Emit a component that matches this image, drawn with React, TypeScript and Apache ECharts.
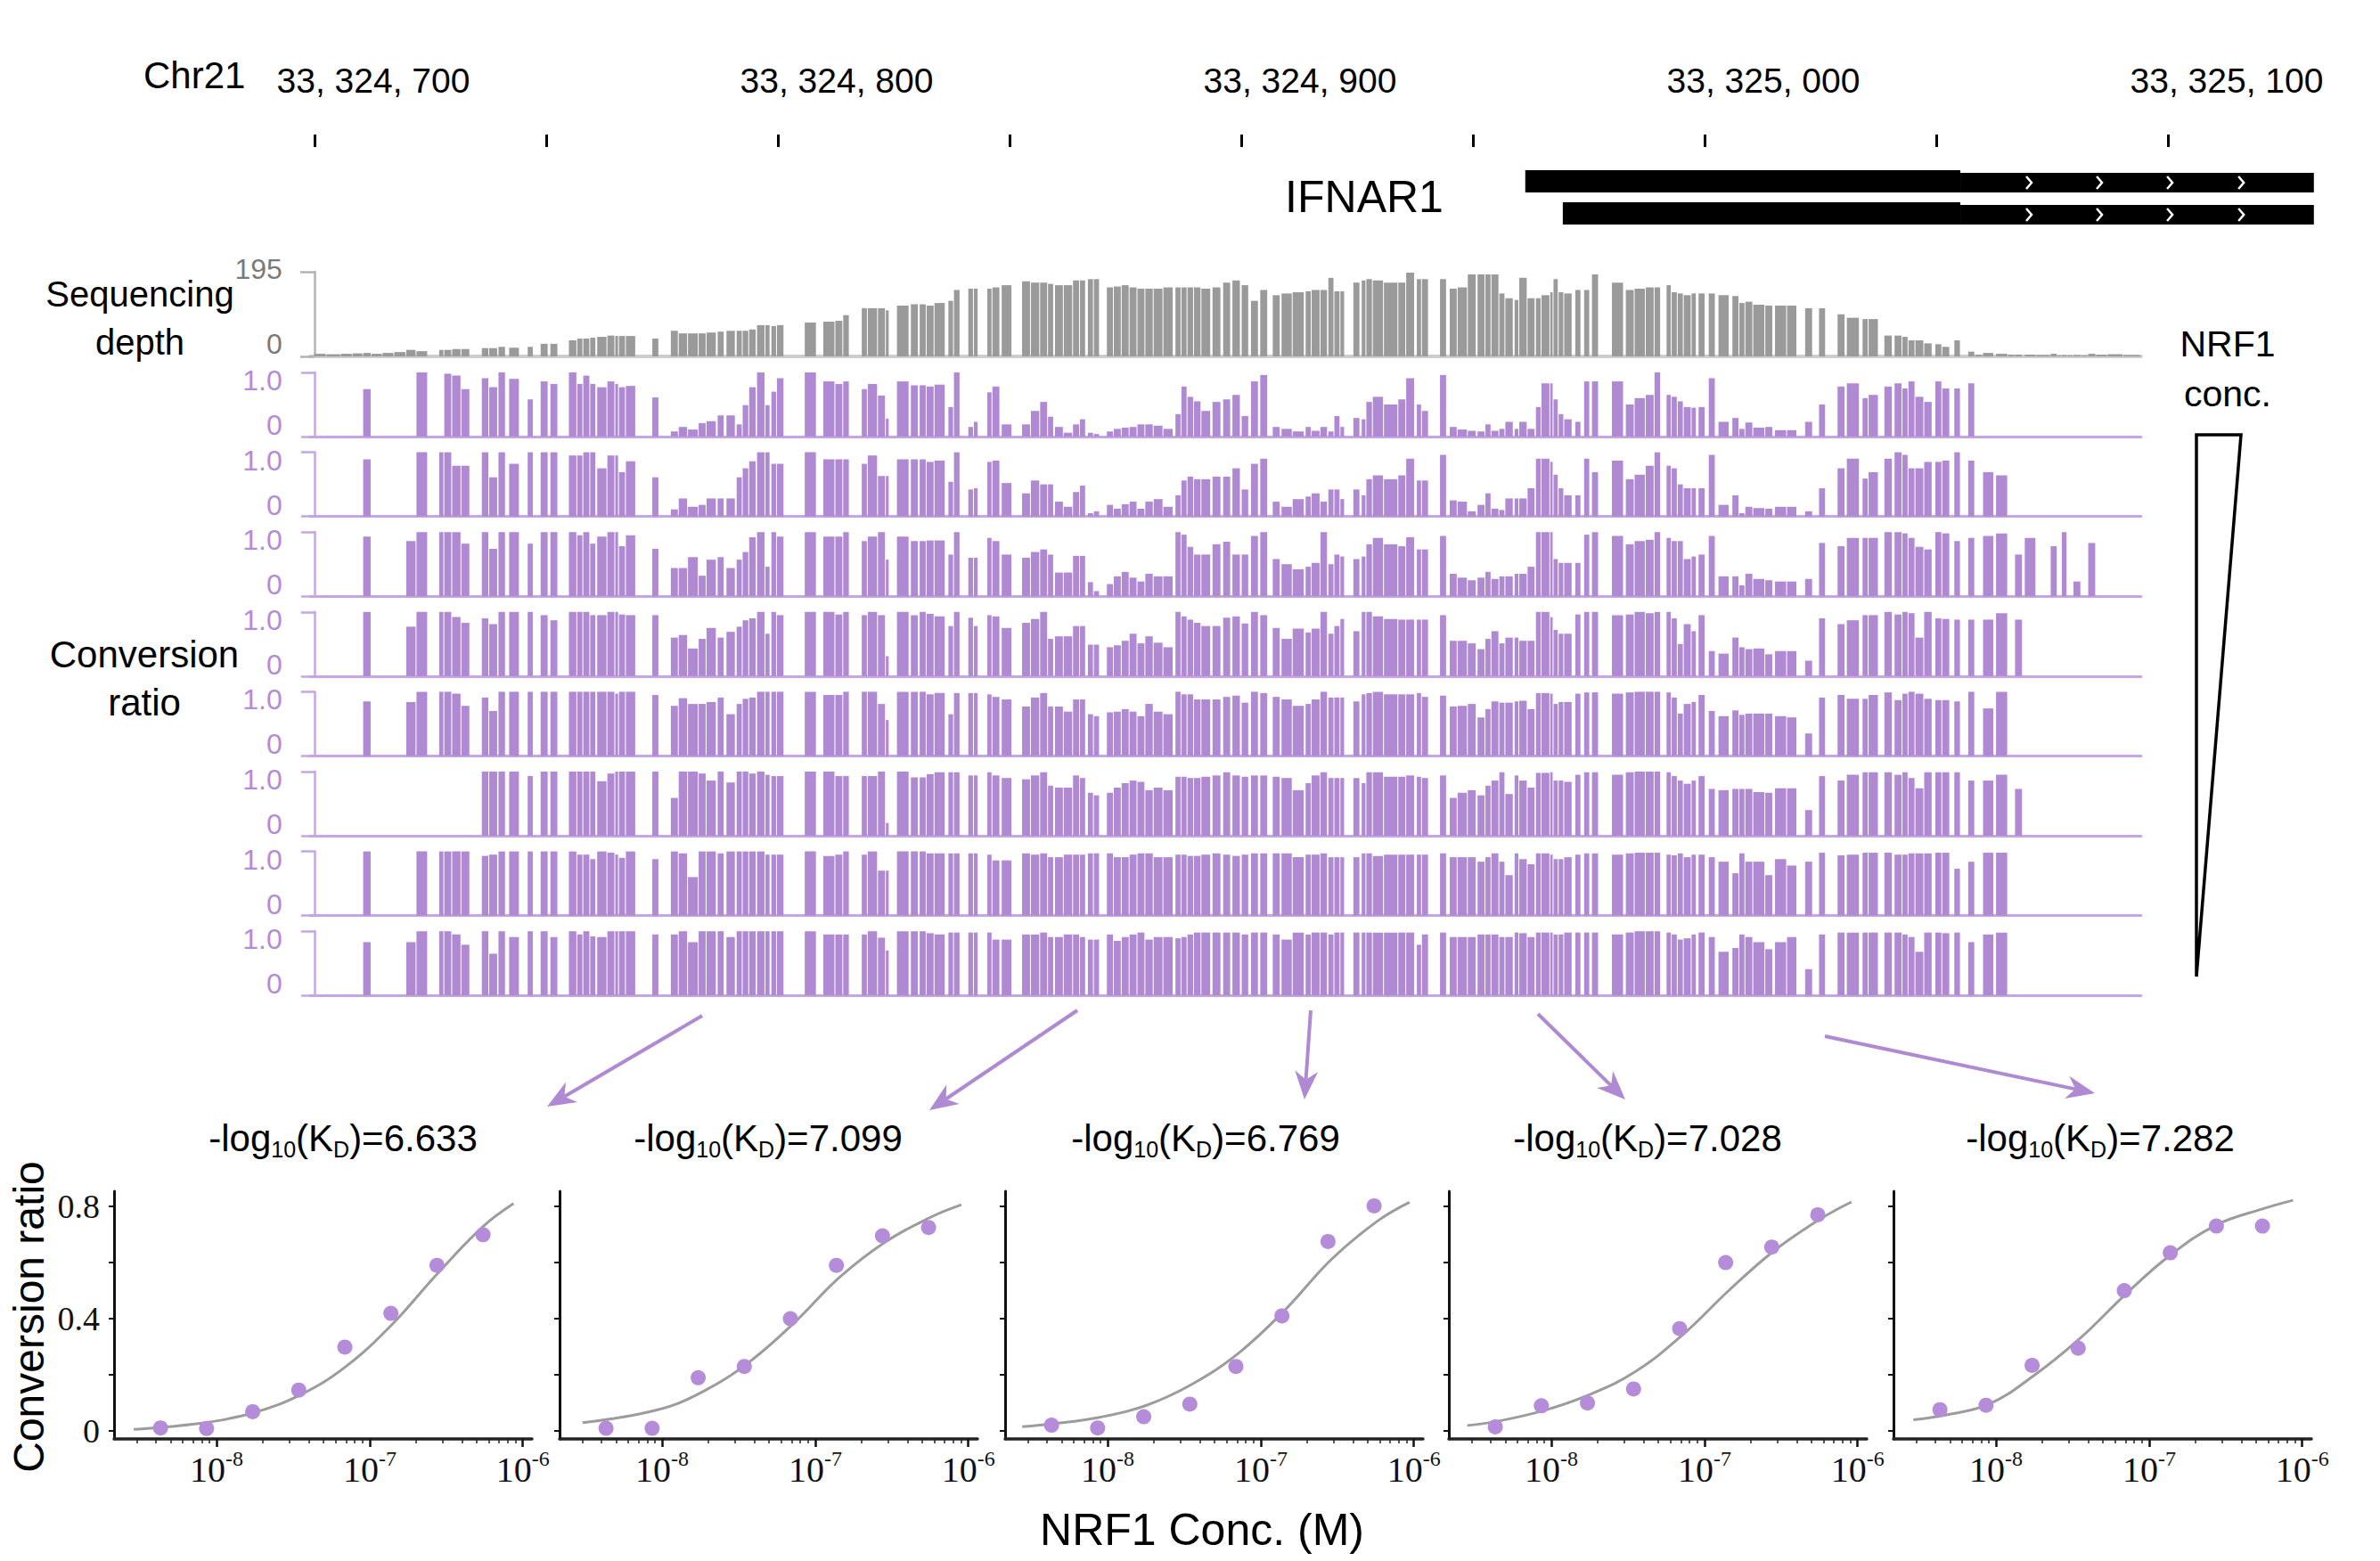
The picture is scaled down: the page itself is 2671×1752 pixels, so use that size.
import React, { useEffect, useRef } from "react";
import * as echarts from "echarts";

// ---------------- data ----------------
const CHROM = "Chr21";
const GENE_NAME = "IFNAR1";
const GENOME_TICKS = [0, 50, 100, 150, 200, 250, 300, 350, 400];
const GENOME_LABEL_POS = [0, 100, 200, 300, 400];
const GENOME_LABELS = ["33, 324, 700", "33, 324, 800", "33, 324, 900", "33, 325, 000", "33, 325, 100"];
// [start bp, end bp, transcript row, kind] kind 0 = coding block, 1 = UTR block
const GENE_PARTS = [
  [261.3, 355.2, 0, 0], [355.2, 431.5, 0, 1],
  [269.4, 355.2, 1, 0], [355.2, 431.5, 1, 1],
];
const GENE_CHEVRONS = [370, 385.2, 400.4, 415.8];

const SITES = [
  [-0.1,2.6],[2.6,5.7],[5.7,8.2],[8.2,10.5],[10.5,12.3],[12.3,14.7],[14.7,17.2],[17.2,19.8],[19.8,22.0],[22.0,24.5],
  [26.9,28.0],[28.0,29.7],[29.7,31.7],[31.7,33.6],[36.1,37.7],[37.7,39.6],[39.7,41.3],[42.0,44.3],[46.0,47.3],[48.8,50.5],
  [50.9,52.6],[54.9,56.7],[56.7,58.0],[58.0,59.5],[59.5,60.8],[61.0,63.2],[63.2,64.9],[64.9,65.7],[65.7,67.2],[67.2,69.4],
  [72.9,74.4],[76.9,78.6],[78.6,80.6],[80.6,82.9],[82.9,84.6],[84.6,86.8],[87.0,88.5],[88.9,90.9],[91.1,92.4],[92.4,93.8],
  [93.8,95.4],[95.5,97.3],[97.3,98.4],[98.6,99.8],[99.8,101.4],[105.8,108.4],[109.8,112.4],[112.4,114.1],[114.1,115.5],[118.1,119.4],
  [119.4,121.6],[121.6,123.3],[123.3,124.1],[125.7,128.4],[128.7,130.4],[130.6,132.1],
  [132.1,133.8],[133.8,136.2],[136.8,138.0],[138.0,139.4],[141.1,142.3],[142.3,143.3],[145.2,146.3],[146.3,148.0],[148.3,150.6],[152.7,154.6],
  [154.6,156.6],[156.6,158.3],[158.3,159.6],[159.8,161.7],[161.7,163.7],[163.7,165.2],[165.2,166.5],[166.9,168.2],[168.2,169.5],[171.0,172.5],
  [172.5,174.2],[174.2,175.9],[175.9,177.6],[177.6,179.3],[179.3,181.1],[181.1,183.2],[183.2,185.4],[185.8,187.1],[187.1,188.4],[188.4,189.8],
  [189.8,191.4],[191.4,193.5],[193.8,195.7],[196.1,197.8],[198.1,199.9],[200.1,201.7],[202.1,203.8],[204.1,205.8],[206.8,208.5],[208.7,211.1],
  [211.1,213.7],[213.9,215.2],[215.2,217.1],[217.1,218.7],[218.8,220.1],[220.1,221.4],[221.4,222.4],[224.2,225.7],[226.0,227.0],[227.0,228.4],
  [228.4,230.8],[230.8,233.9],[233.9,235.6],[235.6,237.5],[237.9,239.0],[239.0,240.5],[242.9,244.4],[245.0,246.7],[246.7,248.9],[248.9,250.8],
  [251.0,252.7],[252.7,254.0],[254.0,255.7],[255.7,257.0],[257.0,258.8],[259.0,260.0],[260.0,261.8],[261.8,263.5],[263.6,264.8],[264.8,266.7],
  [266.7,267.4],[267.4,268.5],[268.5,269.7],[269.7,271.5],[272.1,273.4],[274.0,275.3],[275.7,277.2],[280.0,282.6],[283.0,284.9],[284.9,287.3],
  [287.3,289.2],[289.2,290.6],[291.8,292.9],[292.9,294.2],[294.2,295.5],[295.5,297.2],[297.2,298.3],[298.7,300.2],[300.9,302.4],[303.0,305.4],
  [306.0,307.5],[307.5,308.8],[308.8,310.5],[310.5,313.1],[313.1,314.8],[315.2,317.8],[317.8,320.0],[321.7,323.4],[324.7,326.2],[328.7,330.4],
  [330.7,333.5],[334.1,335.4],[335.4,337.6],[338.8,340.6],[341.0,342.7],[342.7,344.0],[344.0,345.5],[345.5,347.4],[347.4,349.2],[349.8,351.3],
  [351.3,353.0],[353.9,355.3],[356.9,358.4],[358.4,360.1],[360.1,362.5],[362.9,365.5],[365.5,367.0],[367.0,368.7],[369.1,371.6],[371.6,374.7],
  [374.7,376.2],[376.2,377.1],[377.1,378.3],[378.3,379.6],[379.6,381.3],[381.3,382.8],[382.8,384.5],[384.5,387.0],[387.0,390.4],[390.4,394.2],
];

const DEPTH_MAX = 195;
const DEPTH = [
  6,5,6,7,8,6,8,10,15,12,
  15,15,17,17,19,19,22,20,22,29,
  29,37,41,41,43,45,48,47,47,47,
  41,59,53,53,53,55,57,59,59,59,
  62,72,72,70,72,78,80,82,95,111,
  111,111,106,117,120,120,
  117,123,128,153,156,156,156,159,164,173,
  170,170,167,164,164,175,175,178,178,159,
  161,164,159,156,156,156,159,159,159,159,
  159,156,159,170,175,164,128,153,141,145,
  148,150,153,153,181,150,150,170,175,178,
  175,170,170,193,178,178,178,156,159,189,
  189,189,189,145,134,130,181,134,134,141,
  148,178,148,145,153,153,189,170,153,156,
  159,159,164,148,145,141,145,145,145,141,
  139,123,126,119,117,117,117,111,111,97,
  89,86,86,48,48,45,37,37,30,28,
  22,37,11,4,8,6,4,4,4,3,
  6,2,3,2,3,2,6,4,5,3,
];

const CONV_1 = [
  0,0,0,0,.74,0,0,0,0,1,
  0,.98,.95,.74,.91,.77,1,.9,.58,.86,
  .82,1,.82,.95,.82,.77,.86,.82,.77,.79,
  .61,.08,.15,.11,.21,.24,.33,.33,.19,.49,
  .77,1,.49,.7,.91,1,.86,.82,.86,.74,
  .82,.64,.28,.86,.8,.8,
  .78,.81,.46,1,.15,.23,.69,.78,.19,.19,
  .4,.54,.31,.15,.06,.19,.27,.06,.04,.08,
  .12,.14,.15,.19,.19,.17,.12,.35,.78,.62,
  .55,.4,.54,.58,.65,.32,.86,.96,.15,.12,
  .08,.15,.09,.15,.08,.32,.15,.29,.27,.54,
  .62,.5,.58,.91,.5,.4,.96,.15,.11,.09,
  .08,.19,.09,.12,.23,.12,.23,.12,.46,.83,
  .83,.58,.35,.27,.23,.86,.86,.86,.5,.6,
  .65,1,.65,.62,.55,.46,.45,.46,.91,.23,
  .29,.12,.22,.14,.15,.1,.1,.23,.5,.78,
  .83,.6,.65,.78,.83,.75,.86,.62,.54,.86,
  .75,.75,.83,0,0,0,0,0,0,0,
  0,0,0,0,0,0,0,0,0,0,
];
const CONV_2 = [
  0,0,0,0,.89,0,0,0,0,1,
  1,1,.79,.79,1,.61,1,.82,1,1,
  1,.95,.95,1,1,.75,.95,.95,.69,.86,
  .61,.11,.28,.15,.18,.28,.28,.28,.61,.75,
  .86,1,1,.82,.82,1,.89,.89,.89,.82,
  .95,.63,.63,.89,.89,.89,
  .85,.87,.54,1,.42,.44,.85,.87,.52,.36,
  .56,.5,.5,.23,.15,.38,.48,.05,.08,.18,
  .12,.19,.23,.12,.23,.27,.15,.33,.56,.62,
  .58,.58,.62,.62,.75,.42,.82,.9,.23,.15,
  .27,.31,.36,.23,.42,.42,.27,.42,.33,.58,
  .64,.58,.64,.9,.56,.56,.96,.25,.23,.08,
  .18,.36,.12,.1,.28,.28,.28,.44,.9,.9,
  .85,.65,.44,.33,.33,.9,.69,.87,.58,.65,
  .79,1,.79,.75,.5,.44,.44,.44,.96,.18,
  .33,.05,.15,.13,.12,.15,.15,.08,.44,.75,
  .9,.59,.69,.9,1,.96,.75,.75,.85,.85,
  .87,1,.87,0,.69,.64,0,0,0,0,
  0,0,0,0,0,0,0,0,0,0,
];
const CONV_3 = [
  0,0,0,0,.93,0,0,0,.86,1,
  1,1,1,.82,1,.74,1,1,.82,1,
  1,1,.95,1,.82,.93,1,1,.78,.95,
  .74,.44,.44,.61,.32,.57,.61,.44,.57,.69,
  .92,1,.46,1,.93,1,.93,.93,1,.86,
  .93,1,.57,.93,.86,.86,
  .87,.87,.65,1,.6,.6,.91,.86,.65,.6,
  .69,.73,.65,.37,.37,.63,.63,.22,.08,.19,
  .31,.38,.29,.23,.35,.31,.31,1,.96,.77,
  .65,.65,.81,.85,.65,.65,.94,1,.58,.5,
  .42,.46,.52,1,.5,.65,.62,.58,.62,.81,
  .91,.81,.78,.92,.73,.73,.94,.35,.29,.25,
  .29,.38,.27,.31,.31,.35,.35,.46,1,1,
  1,.58,.52,.52,.52,.96,1,.94,.81,.86,
  .88,1,.91,.86,.86,.58,.62,.65,.94,.31,
  .31,.17,.35,.27,.25,.23,.23,.27,.83,.78,
  .91,.91,.91,1,1,.98,.91,.77,.73,1,
  .98,.86,.91,0,.94,.98,0,.65,.91,0,
  .78,0,1,0,.23,0,.83,0,0,0,
];
const CONV_4 = [
  0,0,0,0,1,0,0,0,.77,1,
  1,1,.92,.83,.9,.81,1,1,1,.95,
  .87,1,1,1,.95,.95,1,1,.96,.95,
  .95,.6,.64,.43,.58,.75,.6,.69,.77,.87,
  .9,1,.66,1,.95,1,1,.96,1,.95,
  1,.95,.31,1,.95,1,
  .97,.93,.78,1,.91,.78,.95,.93,.75,.83,
  .89,1,.58,.62,.62,.78,.78,.49,.49,.45,
  .48,.55,.66,.51,.62,.52,.45,1,.93,.88,
  .83,.78,.78,.91,.93,.82,1,.95,.75,.58,
  .74,.68,.74,1,.66,.78,.89,.7,1,1,
  .93,.89,.88,.88,.88,.88,.95,.55,.55,.51,
  .42,.58,.7,.51,.6,.6,.55,.55,1,1,
  .92,.72,.66,.66,.96,1,1,.95,.96,1,
  .98,1,1,.9,.5,.81,.7,.95,.39,.35,
  .6,.45,.42,.43,.34,.39,.39,.24,.9,.81,
  .87,.95,.95,1,.96,1,.98,.6,1,.9,
  .89,.88,.88,0,.88,.98,0,.88,0,0,
  0,0,0,0,0,0,0,0,0,0,
];
const CONV_5 = [
  0,0,0,0,.85,0,0,0,.84,1,
  1,1,.97,.78,.91,.7,1,1,1,1,
  1,1,1,1,1,1,1,.97,1,1,
  .95,.78,.9,.81,.81,.84,.91,.65,.81,.89,
  .91,1,1,1,1,1,.95,.95,1,1,
  1,.81,.56,1,1,1,
  .96,.98,.65,.98,.98,.98,.96,.92,.88,.77,
  .91,.98,.77,.77,.69,.88,.88,.65,.62,.68,
  .69,.73,.69,.62,.81,.69,.65,1,.96,.96,
  .88,.88,.88,.92,.94,.83,1,.98,.92,.88,
  .78,.81,.88,1,.91,.91,.91,.85,.96,.98,
  1,.96,.96,.96,.98,.92,.94,.77,.78,.81,
  .6,.73,.85,.83,.83,.85,.86,.73,.98,.98,
  .97,.81,.84,.84,.97,.99,.99,.97,.99,1,
  1,1,.99,.91,.66,.81,.84,.95,.7,.62,
  .71,.64,.66,.66,.66,.62,.6,.35,.91,.95,
  .89,.89,.95,.99,.87,.97,1,.97,.89,.87,
  .87,.85,1,0,.74,1,0,0,0,0,
  0,0,0,0,0,0,0,0,0,0,
];
const CONV_6 = [
  0,0,0,0,0,0,0,0,0,0,
  0,0,0,0,1,1,1,1,.93,1,
  1,1,1,1,1,.85,.97,1,1,1,
  1,.59,1,1,.97,.86,1,.83,1,1,
  .97,1,.95,.93,.93,1,1,.93,.93,.93,
  .93,1,.2,1,.91,.91,
  .96,.99,.99,.99,.94,.94,.99,.94,.9,.88,
  .94,.99,.78,.75,.75,.94,.9,.67,.63,.67,
  .75,.82,.86,.84,.71,.75,.71,.92,.92,.9,
  .9,.92,.94,.99,.94,.92,.94,.94,.92,.9,
  .71,.82,.94,.99,.9,.9,.9,.9,.82,.99,
  .99,.92,.92,.94,.92,.9,.94,.59,.67,.71,
  .63,.78,.86,.99,.65,.94,.86,.75,.98,.98,
  .99,.86,.86,.84,.95,.99,.99,.95,.99,1,
  1,1,.99,.93,.86,.81,.86,.93,.73,.71,
  .73,.73,.73,.68,.67,.74,.74,.4,.93,.86,
  .95,.99,.99,.99,.95,.99,.9,.74,.99,.99,
  .99,.99,.86,0,.86,.95,0,.73,0,0,
  0,0,0,0,0,0,0,0,0,0,
];
const CONV_7 = [
  0,0,0,0,1,0,0,0,0,1,
  1,1,1,1,.93,.95,1,1,1,1,
  1,1,.95,.95,.88,1,.98,.95,.9,1,
  .88,1,.97,.6,1,1,.97,1,1,1,
  1,1,.95,.95,.95,1,.93,.95,1,.95,
  1,.7,.7,1,1,1,
  .97,.97,.97,.97,.97,.97,.95,.86,.86,.97,
  .95,.97,.91,.91,.95,.95,.95,.97,.97,.97,
  .91,.91,.95,.97,.97,.91,.91,.95,.95,.93,
  .93,.95,.97,.95,.93,.95,.97,.97,.97,.97,
  .91,.95,.95,.97,.91,.91,.91,.91,.97,.97,
  .93,.95,.95,.95,.95,.95,.97,.91,.91,.91,
  .84,.91,.97,.84,.63,.97,.88,.8,.97,.97,
  .95,.88,.88,.91,.95,.97,.97,.95,.97,.98,
  .98,.98,.95,.94,.97,.91,.95,.95,.91,.84,
  .66,.97,.84,.84,.63,.88,.78,.84,.98,.94,
  .95,.98,.98,.98,.95,.95,.97,.97,.97,.98,
  .98,.73,.84,0,.98,.98,0,0,0,0,
  0,0,0,0,0,0,0,0,0,0,
];
const CONV_8 = [
  0,0,0,0,.83,0,0,0,.83,1,
  1,1,.95,.79,1,.65,1,.91,1,1,
  .91,1,.95,1,.92,.91,1,1,1,1,
  .95,.95,1,.83,1,1,1,.91,1,1,
  1,1,1,1,1,1,.95,.95,.95,.95,
  1,.9,.7,1,1,1,
  .97,.95,.98,.98,.98,.98,.98,.87,.87,.95,
  .95,.98,.91,.91,.95,.95,.91,.87,.87,.95,
  .85,.91,.95,.98,.87,.91,.91,.89,.91,.95,
  .98,.98,.98,.98,.98,.95,.98,.98,.95,.87,
  .98,.95,.98,.98,.95,.98,.98,.98,.98,.98,
  .98,.98,.98,.98,.79,.95,.98,.91,.91,.91,
  .95,.95,.95,.91,.91,.98,.97,.91,.98,.98,
  .98,.95,.95,.98,.98,.98,.98,.95,.98,1,
  1,1,.98,.95,.87,.89,.95,.98,.91,.68,
  .74,.95,.91,.83,.72,.83,.91,.41,.95,.98,
  .98,.98,.98,.98,.98,.95,.91,.68,.98,.98,
  .97,.98,.83,0,.95,.98,0,0,0,0,
  0,0,0,0,0,0,0,0,0,0,
];

// NRF1 titration (nM) and per-site fits
const CONC_NM = [4.3, 8.6, 17.2, 34.4, 68.8, 137.5, 275, 550];
const FIT_PKD = [6.633, 7.099, 6.769, 7.028, 7.282];
const POINTS_1 = [0.011, 0.009, 0.069, 0.146, 0.299, 0.419, 0.59, 0.699];
const POINTS_2 = [0.01, 0.01, 0.19, 0.23, 0.40, 0.59, 0.695, 0.725];
const POINTS_3 = [0.021, 0.011, 0.051, 0.096, 0.23, 0.41, 0.675, 0.802];
const POINTS_4 = [0.015, 0.09, 0.10, 0.15, 0.365, 0.60, 0.655, 0.77];
const POINTS_5 = [0.076, 0.092, 0.234, 0.295, 0.50, 0.635, 0.73, 0.73];
const CURVE_X_1 = [-8.541, -8.347, -8.047, -7.746, -7.449, -7.153, -6.855, -6.56, -6.26, -6.06];
const CURVE_Y_1 = [0.006, 0.014, 0.032, 0.067, 0.13, 0.231, 0.379, 0.559, 0.728, 0.81];
const CURVE_X_2 = [-8.52, -8.035, -7.736, -7.438, -7.14, -6.84, -6.54, -6.244, -6.045];
const CURVE_Y_2 = [0.03, 0.075, 0.14, 0.243, 0.384, 0.548, 0.674, 0.762, 0.806];
const CURVE_X_3 = [-8.558, -8.355, -8.053, -7.75, -7.448, -7.144, -6.84, -6.537, -6.235, -6.028];
const CURVE_Y_3 = [0.016, 0.026, 0.049, 0.091, 0.167, 0.278, 0.432, 0.612, 0.749, 0.815];
const CURVE_X_4 = [-8.55, -8.35, -8.05, -7.75, -7.45, -7.14, -6.84, -6.55, -6.25, -6.04];
const CURVE_Y_4 = [0.02, 0.035, 0.073, 0.13, 0.212, 0.344, 0.501, 0.64, 0.753, 0.816];
const CURVE_X_5 = [-8.54, -8.35, -8.05, -7.75, -7.45, -7.15, -6.86, -6.56, -6.26, -6.06];
const CURVE_Y_5 = [0.04, 0.055, 0.095, 0.199, 0.331, 0.489, 0.627, 0.734, 0.791, 0.822];
const X_TICK_EXP = [-8, -7, -6];
const Y_TICKS = [0, 0.4, 0.8];

// ---------------- layout / style ----------------
const W = 2671, H = 1752;
const SANS = '"Liberation Sans", Arial, Helvetica, sans-serif';
const SERIF = '"Liberation Serif", "Times New Roman", serif';
const PURPLE = "#b089d3";
const PURPLE_AXIS = "#c5a5e3";
const PURPLE_TEXT = "#b38cd8";
const DOT = "#b58cd9";
const PX_PER_BP = 5.2;
const X_BP0 = 353;
const BP_MIN = -1, TRACK_BP_MAX = 394.2, TOP_BP_MAX = 432;
const GENE_ROW_Y = [[40, 65], [76, 101]];
const GENE_CHEV_Y = [54, 90];
const PANEL_LEFT = [128, 628, 1128, 1626, 2125];
const PANEL_TITLE_X = [385, 862, 1353, 1849, 2357];
const PANEL_X_MIN = -8.67, PANEL_X_MAX = -5.94;
const PANEL_Y_MIN = -0.028, PANEL_Y_MAX = 0.854;
const ARROWS = [
  [788, 1140, 614, 1242], [1209, 1134, 1043, 1246], [1471, 1134, 1464, 1234],
  [1726, 1138, 1824, 1234], [2048, 1163, 2351, 1227],
];

function text(x: number, y: number, t: string, size: number, o: any = {}) {
  const align = o.align || "center";
  const valign = o.valign || "middle";
  return {
    type: "text", x, y, silent: true, rotation: o.rotation || 0, z: 10,
    style: {
      text: t, fill: o.color || "#000", fontSize: size, fontFamily: o.family || SANS,
      textAlign: align, textVerticalAlign: valign, align, verticalAlign: valign,
      lineHeight: o.lineHeight, rich: o.rich,
    },
  };
}

function arrow([x1, y1, x2, y2]: number[]) {
  const dx = x2 - x1, dy = y2 - y1, len = Math.hypot(dx, dy);
  const ux = dx / len, uy = dy / len, nx = -uy, ny = ux;
  const L = 32, Wd = 26;
  const bx = x2 - ux * L, by = y2 - uy * L;
  const nxp = x2 - ux * L * 0.7, nyp = y2 - uy * L * 0.7;
  return [
    { type: "line", silent: true, shape: { x1, y1, x2: nxp, y2: nyp }, style: { stroke: PURPLE, lineWidth: 4 } },
    {
      type: "polygon", silent: true,
      shape: { points: [[x2, y2], [bx + nx * Wd / 2, by + ny * Wd / 2], [nxp, nyp], [bx - nx * Wd / 2, by - ny * Wd / 2]] },
      style: { fill: PURPLE },
    },
  ];
}

function barRender(color: string) {
  return (_p: any, api: any) => {
    const s = api.value(0), e = api.value(1), v = api.value(2);
    const a = api.coord([s, v]);
    const b = api.coord([e, 0]);
    return {
      type: "rect",
      shape: { x: a[0], y: a[1], width: Math.max(b[0] - a[0] - 1, 1), height: b[1] - a[1] },
      style: { fill: color },
    };
  };
}

function buildOption() {
  const grid: any[] = [], xAxis: any[] = [], yAxis: any[] = [], series: any[] = [], graphic: any[] = [];
  const left = X_BP0 + BP_MIN * PX_PER_BP;
  const gBase = { outerBoundsMode: "none", containLabel: false };

  // genomic ruler + gene model (grid 0)
  grid.push({ ...gBase, left, top: 151, width: (TOP_BP_MAX - BP_MIN) * PX_PER_BP, height: 110 });
  xAxis.push({
    gridIndex: 0, type: "value", position: "top", min: BP_MIN, max: TOP_BP_MAX,
    axisLine: { show: false }, splitLine: { show: false },
    axisTick: { show: true, inside: true, length: 14, customValues: GENOME_TICKS, lineStyle: { color: "#000", width: 3 } },
    axisLabel: {
      show: true, customValues: GENOME_LABEL_POS, fontSize: 39, fontFamily: SANS, color: "#000",
      margin: 61, verticalAlign: "middle", align: "center", padding: [0, 0, 0, 132],
      formatter: (v: number) => GENOME_LABELS[GENOME_LABEL_POS.indexOf(Math.round(v))] || "",
    },
  });
  yAxis.push({ gridIndex: 0, type: "value", min: 0, max: 110, inverse: true, show: false });
  series.push({
    type: "custom", xAxisIndex: 0, yAxisIndex: 0, data: GENE_PARTS, encode: { x: [0, 1], y: 2 },
    renderItem: (_p: any, api: any) => {
      const s = api.value(0), e = api.value(1), row = api.value(2), kind = api.value(3);
      const [t, b] = GENE_ROW_Y[row];
      const a = api.coord([s, kind === 0 ? t : t + 3]);
      const c = api.coord([e, b]);
      return { type: "rect", shape: { x: a[0], y: a[1], width: c[0] - a[0], height: c[1] - a[1] }, style: { fill: "#000" } };
    },
  });
  series.push({
    type: "custom", xAxisIndex: 0, yAxisIndex: 0, z: 5,
    data: GENE_CHEVRONS.flatMap((x) => [[x, 0], [x, 1]]), encode: { x: 0, y: 1 },
    renderItem: (_p: any, api: any) => {
      const c = api.coord([api.value(0), GENE_CHEV_Y[api.value(1)]]);
      return {
        type: "polyline",
        shape: { points: [[c[0] - 3, c[1] - 7], [c[0] + 3, c[1]], [c[0] - 3, c[1] + 7]] },
        style: { stroke: "#fff", lineWidth: 2.5, fill: "none" },
      };
    },
  });

  const trackW = (TRACK_BP_MAX - BP_MIN) * PX_PER_BP;
  // sequencing depth (grid 1)
  grid.push({ ...gBase, left, top: 305, width: trackW, height: 95 });
  xAxis.push({
    gridIndex: 1, type: "value", min: BP_MIN, max: TRACK_BP_MAX,
    axisLine: { show: true, onZero: false, lineStyle: { color: "#cdcdcd", width: 4 } },
    axisTick: { show: false }, axisLabel: { show: false }, splitLine: { show: false },
  });
  yAxis.push({
    gridIndex: 1, type: "value", min: 0, max: DEPTH_MAX, interval: DEPTH_MAX, offset: 9,
    axisLine: { show: true, lineStyle: { color: "#b3b3b3", width: 2.5 } },
    axisTick: { show: true, length: 16, lineStyle: { color: "#b3b3b3", width: 2.5 } },
    axisLabel: {
      show: true, margin: 22,
      formatter: (v: number) => (v > 0 ? `{t|${v}}` : `{z|${v}}`),
      rich: {
        t: { fontSize: 32, fontFamily: SANS, color: "#7a7a7a", padding: [0, 0, 6, 0] },
        z: { fontSize: 32, fontFamily: SANS, color: "#7a7a7a", padding: [0, 0, 28, 0] },
      },
    },
    splitLine: { show: false },
  });
  series.push({
    type: "custom", xAxisIndex: 1, yAxisIndex: 1, encode: { x: [0, 1], y: 2 },
    data: SITES.map((s, i) => [s[0], s[1], DEPTH[i]]).filter((r) => r[2] > 0),
    renderItem: barRender("#9a9a9a"),
  });

  // conversion ratio tracks (grids 2..9)
  const CONV = [CONV_1, CONV_2, CONV_3, CONV_4, CONV_5, CONV_6, CONV_7, CONV_8];
  CONV.forEach((vals, k) => {
    const gi = 2 + k;
    grid.push({ ...gBase, left, top: 418 + 89.6 * k, width: trackW, height: 72 });
    xAxis.push({
      gridIndex: gi, type: "value", min: BP_MIN, max: TRACK_BP_MAX,
      axisLine: { show: true, onZero: false, lineStyle: { color: PURPLE_AXIS, width: 3 } },
      axisTick: { show: false }, axisLabel: { show: false }, splitLine: { show: false },
    });
    yAxis.push({
      gridIndex: gi, type: "value", min: 0, max: 1, interval: 1, offset: 9,
      axisLine: { show: true, lineStyle: { color: PURPLE_AXIS, width: 2.5 } },
      axisTick: { show: true, length: 15, lineStyle: { color: PURPLE_AXIS, width: 2.5 } },
      axisLabel: {
        show: true, margin: 22,
        formatter: (v: number) => (v >= 1 ? "{t|1.0}" : "{z|0}"),
        rich: {
          t: { fontSize: 32, fontFamily: SANS, color: PURPLE_TEXT, padding: [18, 0, 0, 0] },
          z: { fontSize: 32, fontFamily: SANS, color: PURPLE_TEXT, padding: [0, 0, 26, 0] },
        },
      },
      splitLine: { show: false },
    });
    series.push({
      type: "custom", xAxisIndex: gi, yAxisIndex: gi, encode: { x: [0, 1], y: 2 },
      data: SITES.map((s, i) => [s[0], s[1], vals[i]]).filter((r) => r[2] > 0),
      renderItem: barRender(PURPLE),
    });
  });

  // minor log ticks for the titration panels (axis decoration)
  const minorTicks: number[] = [];
  for (let n = -9; n <= -6; n++) {
    for (let m = 2; m <= 9; m++) {
      const v = n + Math.log10(m);
      if (v > PANEL_X_MIN && v < PANEL_X_MAX) minorTicks.push(v);
    }
  }

  // binding curves (grids 10..14)
  const POINTS = [POINTS_1, POINTS_2, POINTS_3, POINTS_4, POINTS_5];
  const CX = [CURVE_X_1, CURVE_X_2, CURVE_X_3, CURVE_X_4, CURVE_X_5];
  const CY = [CURVE_Y_1, CURVE_Y_2, CURVE_Y_3, CURVE_Y_4, CURVE_Y_5];
  PANEL_LEFT.forEach((pl, i) => {
    const gi = 10 + i;
    grid.push({ ...gBase, left: pl, top: 1337, width: 469, height: 278 });
    const xi = xAxis.length;
    xAxis.push({
      gridIndex: gi, type: "value", position: "bottom", min: PANEL_X_MIN, max: PANEL_X_MAX,
      axisLine: { show: true, onZero: false, lineStyle: { color: "#222", width: 3.5 } },
      axisTick: { show: true, length: 9, customValues: X_TICK_EXP, lineStyle: { color: "#111", width: 2.5 } },
      axisLabel: {
        show: true, customValues: X_TICK_EXP, margin: 10,
        formatter: (v: number) => `{b|10}{p|${Math.round(v)}}`,
        rich: {
          b: { fontSize: 40, fontFamily: SERIF, color: "#111", lineHeight: 44, verticalAlign: "bottom" },
          p: { fontSize: 24, fontFamily: SERIF, color: "#111", lineHeight: 24, verticalAlign: "top" },
        },
      },
      splitLine: { show: false },
    });
    xAxis.push({
      gridIndex: gi, type: "value", position: "bottom", offset: 0, min: PANEL_X_MIN, max: PANEL_X_MAX,
      axisLine: { show: false, onZero: false },
      axisTick: { show: true, length: 5, customValues: minorTicks, lineStyle: { color: "#222", width: 1.5 } },
      axisLabel: { show: false }, splitLine: { show: false },
    });
    const yi = yAxis.length;
    yAxis.push({
      gridIndex: gi, type: "value", min: PANEL_Y_MIN, max: PANEL_Y_MAX,
      axisLine: { show: true, onZero: false, lineStyle: { color: "#111", width: 3 } },
      axisTick: { show: true, length: 6, customValues: [0, 0.2, 0.4, 0.6, 0.8], lineStyle: { color: "#111", width: 2 } },
      axisLabel: {
        show: i === 0, customValues: Y_TICKS, fontSize: 38, fontFamily: SERIF, color: "#111", margin: 16,
        formatter: (v: number) => (v === 0 ? "0" : v.toFixed(1)),
      },
      splitLine: { show: false },
    });
    series.push({
      type: "line", xAxisIndex: xi, yAxisIndex: yi, z: 3,
      data: CX[i].map((x, j) => [x, CY[i][j]]),
      smooth: 0.4, showSymbol: false, symbol: "none",
      lineStyle: { color: "#9c9c9c", width: 3 },
    });
    series.push({
      type: "scatter", xAxisIndex: xi, yAxisIndex: yi, z: 4, symbolSize: 17,
      data: CONC_NM.map((c, j) => [Math.log10(c * 1e-9), POINTS[i][j]]),
      itemStyle: { color: DOT, opacity: 1 },
    });
    graphic.push(text(PANEL_TITLE_X[i], 1279, `{m|-log}{s|10}{m|(K}{s|D}{m|)=${FIT_PKD[i].toFixed(3)}}`, 42, {
      rich: {
        m: { fontSize: 42, fontFamily: SANS, fill: "#000", lineHeight: 46, verticalAlign: "top" },
        s: { fontSize: 25, fontFamily: SANS, fill: "#000", lineHeight: 25, verticalAlign: "bottom", padding: [28, 0, 0, 0] },
      },
    }));
  });

  // free labels
  graphic.push(text(161, 84, CHROM, 42, { align: "left" }));
  graphic.push(text(1531, 221, GENE_NAME, 50));
  graphic.push(text(157, 357, "Sequencing\ndepth", 40, { lineHeight: 54 }));
  graphic.push(text(162, 761, "Conversion\nratio", 42, { lineHeight: 54 }));
  graphic.push(text(2500, 414, "NRF1\nconc.", 41, { lineHeight: 56 }));
  graphic.push(text(32, 1478, "Conversion ratio", 48, { rotation: Math.PI / 2 }));
  graphic.push(text(1349, 1717, "NRF1 Conc. (M)", 50));
  graphic.push({
    type: "polygon", silent: true,
    shape: { points: [[2465, 488], [2515, 488], [2465, 1096]] },
    style: { fill: "#fff", stroke: "#000", lineWidth: 3.5, lineJoin: "miter" },
  });
  ARROWS.forEach((a) => graphic.push(...arrow(a)));

  return {
    animation: false,
    backgroundColor: "#fff",
    textStyle: { fontFamily: SANS },
    grid, xAxis, yAxis, series, graphic,
  };
}

export default function App() {
  const ref = useRef<HTMLDivElement>(null);
  useEffect(() => {
    document.body.style.margin = "0";
    const chart = echarts.init(ref.current as HTMLDivElement, null, { renderer: "svg", width: W, height: H });
    chart.setOption(buildOption() as any);
    return () => chart.dispose();
  }, []);
  return <div ref={ref} style={{ width: W, height: H }} />;
}
